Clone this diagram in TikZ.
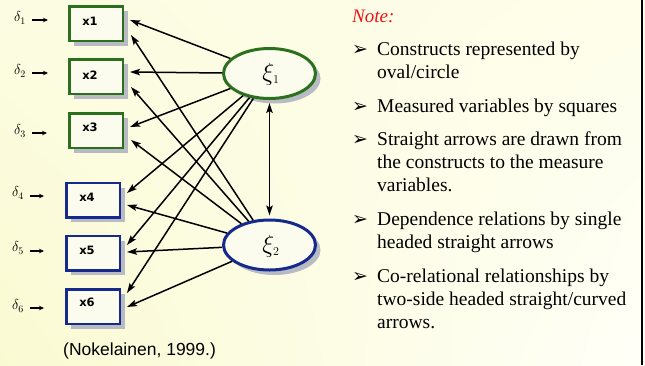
\documentclass[tikz,border=0pt]{standalone}
\usepackage{fontspec}
\setmainfont{Liberation Serif}
\newfontfamily\arialfont{Liberation Sans}
\newfontfamily\dejafont{DejaVu Sans}
\usetikzlibrary{shapes.geometric,shadows,shadings,arrows.meta}

\definecolor{bgUL}{RGB}{252,252,226}
\definecolor{bgUR}{RGB}{254,254,234}
\definecolor{bgLL}{RGB}{250,250,210}
\definecolor{bgLR}{RGB}{255,255,248}
\definecolor{boxfill}{RGB}{252,252,238}
\definecolor{shadowgray}{RGB}{184,186,196}
\definecolor{semgreen}{RGB}{44,112,30}
\definecolor{semblue}{RGB}{22,42,140}
\definecolor{notered}{RGB}{235,20,20}

\tikzset{
  semshadow/.style={drop shadow={shadow xshift=5pt,shadow yshift=-5pt,fill=shadowgray,opacity=1}},
  varbox/.style={rectangle,draw,line width=2.5pt,minimum width=53.5pt,minimum height=34.5pt,
    inner sep=0pt,fill=boxfill,semshadow},
  gbox/.style={varbox,draw=semgreen},
  bbox/.style={varbox,draw=semblue},
  latent/.style={ellipse,draw,line width=3pt,minimum width=92pt,minimum height=50pt,
    inner sep=0pt,fill=boxfill,semshadow},
  gell/.style={latent,draw=semgreen},
  bell/.style={latent,draw=semblue},
  varlbl/.style={inner sep=0pt,font=\dejafont\bfseries\fontsize{11.5}{12}\selectfont},
  xilbl/.style={inner sep=0pt,font=\fontsize{23}{24}\selectfont},
  dlbl/.style={inner sep=1pt,font=\fontsize{14}{15}\selectfont},
  errarr/.style={line width=1.3pt,-{Stealth[length=5pt,width=4.5pt]}},
  conn/.style={line width=1.5pt,-{Stealth[length=10pt,width=6.5pt,inset=2pt]}},
  dblconn/.style={line width=1.5pt,{Stealth[length=10pt,width=6.5pt,inset=2pt]}-{Stealth[length=10pt,width=6.5pt,inset=2pt]},shorten <=3pt,shorten >=3pt},
  notehead/.style={anchor=base west,inner sep=0pt,text=notered,font=\itshape\fontsize{19}{23}\selectfont},
  bullet/.style={anchor=base west,inner sep=0pt,font=\dejafont\bfseries\fontsize{19}{23}\selectfont},
  item/.style={anchor=base west,inner sep=0pt,align=left,font=\fontsize{19.5}{23}\selectfont},
  cite/.style={anchor=base west,inner sep=0pt,font=\arialfont\fontsize{17.5}{20}\selectfont}
}

\begin{document}
\begin{tikzpicture}[x=1pt,y=-1pt]
\useasboundingbox (0,0) rectangle (645,365);

% slide background and its right border
\shade[upper left=bgUL,upper right=bgUR,lower left=bgLL,lower right=bgLR]
  (0,0) rectangle (645,365);
\draw[line width=2pt] (641.5,0) -- (641.5,365);

% measured variables
\node[gbox] (b1) at (96,23.5) {};
\node[gbox] (b2) at (96,76.5) {};
\node[gbox] (b3) at (96,130.5) {};
\node[bbox] (b4) at (93,200) {};
\node[bbox] (b5) at (93,253) {};
\node[bbox] (b6) at (93,306.5) {};

\node[varlbl] (l1) at ([shift={(-6,-2.5)}]b1.center) {x1};
\node[varlbl] (l2) at ([shift={(-6,-1.5)}]b2.center) {x2};
\node[varlbl] (l3) at ([shift={(-6,-3.5)}]b3.center) {x3};
\node[varlbl] (l4) at ([shift={(-6,-3)}]b4.center) {x4};
\node[varlbl] (l5) at ([shift={(-6,-3)}]b5.center) {x5};
\node[varlbl] (l6) at ([shift={(-6,-4)}]b6.center) {x6};

% error terms
\node[dlbl] (d1) at (20,18) {$\delta_{1}$};
\node[dlbl] (d2) at (20,71) {$\delta_{2}$};
\node[dlbl] (d3) at (20,131) {$\delta_{3}$};
\node[dlbl] (d4) at (18,193) {$\delta_{4}$};
\node[dlbl] (d5) at (18,248) {$\delta_{5}$};
\node[dlbl] (d6) at (18,306) {$\delta_{6}$};
\coordinate (e1) at (48,20);
\coordinate (e2) at (48,73);
\coordinate (e3) at (47,133);
\coordinate (e4) at (44,196);
\coordinate (e5) at (44,251);
\coordinate (e6) at (44,308);
\foreach \i in {1,...,6}
  \draw[errarr] ([xshift=5pt]d\i.east |- e\i) -- (e\i);

% constructs
\node[gell] (xi1) at (269.5,73.5) {};
\node[bell] (xi2) at (269.5,245) {};
\node[xilbl] (t1) at (271,74) {$\xi_{\scriptscriptstyle 1}$};
\node[xilbl] (t2) at (271,246) {$\xi_{\scriptscriptstyle 2}$};

% loadings of the first construct
\draw[conn] (xi1) -- ([shift={(6,-3.5)}]b1.east);
\draw[conn] (xi1) -- ([shift={(6,-4.5)}]b2.east);
\draw[conn] (xi1) -- ([shift={(6,-3.5)}]b3.east);
\draw[conn] (xi1) -- ([shift={(6,-7)}]b4.east);
\draw[conn] (xi1) -- ([shift={(6,-8)}]b5.east);
\draw[conn] (xi1) -- ([shift={(6,-13.5)}]b6.east);

% loadings of the second construct
\draw[conn] (xi2) -- ([shift={(7,11.5)}]b1.east);
\draw[conn] (xi2) -- ([shift={(7,10.5)}]b2.east);
\draw[conn] (xi2) -- ([shift={(7,9.5)}]b3.east);
\draw[conn] (xi2) -- ([shift={(6,5)}]b4.east);
\draw[conn] (xi2) -- ([shift={(6,-1)}]b5.east);
\draw[conn] (xi2) -- ([shift={(6,0.5)}]b6.east);

% correlation between the constructs
\draw[dblconn] (xi1) -- (xi2);

% source
\node[cite] (src) at (63,355) {(Nokelainen, 1999.)};

% notes (multi-line nodes sit on the baseline of their last line)
\node[notehead] (note) at (352,22) {Note:};
\node[bullet] (p1) at (352,55) {➢};
\node[bullet] (p2) at (352,112) {➢};
\node[bullet] (p3) at (352,145) {➢};
\node[bullet] (p4) at (352,225) {➢};
\node[bullet] (p5) at (352,282) {➢};
\node[item] (n1) at (377,78) {Constructs represented by\\oval/circle};
\node[item] (n2) at (377,112) {Measured variables by squares};
\node[item] (n3) at (377,191) {Straight arrows are drawn from\\the constructs to the measure\\variables.};
\node[item] (n4) at (377,248) {Dependence relations by single\\headed straight arrows};
\node[item] (n5) at (377,328) {Co-relational relationships by\\two-side headed straight/curved\\arrows.};
\end{tikzpicture}
\end{document}
